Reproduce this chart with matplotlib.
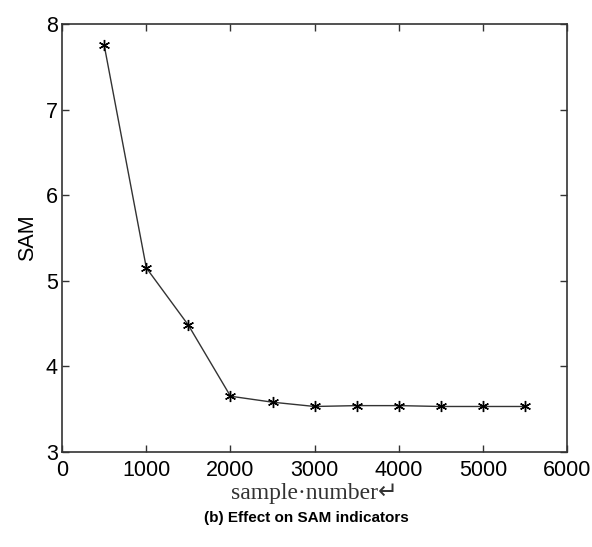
import matplotlib.pyplot as plt

# Данные
samples = [500, 1000, 1500, 2000, 2500, 3000, 3500, 4000, 4500, 5000, 5500]
sam = [7.75, 5.15, 4.48, 3.65, 3.58, 3.53, 3.54, 3.54, 3.53, 3.53, 3.53]
x_ticks = [0, 1000, 2000, 3000, 4000, 5000, 6000]
y_ticks = [3, 4, 5, 6, 7, 8]

fig = plt.figure(figsize=(5.92, 5.47), dpi=100)
ax = fig.add_axes([0.105, 0.174, 0.853, 0.782])

ax.plot(samples, sam, color='#333333', linewidth=1.0, marker=(6, 2, 0),
        markersize=8, markeredgewidth=1.0, markeredgecolor='black')

ax.set_xlim(0, 6000)
ax.set_ylim(3, 8)
ax.set_xticks(x_ticks)
ax.set_yticks(y_ticks)
ax.tick_params(direction='in', top=True, right=True, length=5, width=1,
               labelsize=15.5, colors='#333333', labelcolor='black')
ax.tick_params(axis='x', pad=6)
ax.tick_params(axis='y', pad=3)
for lbl in ax.get_xticklabels() + ax.get_yticklabels():
    lbl.set_fontfamily('Liberation Sans')
for s in ax.spines.values():
    s.set_color('#333333')
    s.set_linewidth(1.2)

ax.set_ylabel('SAM', fontsize=15.5, family='Liberation Sans', labelpad=6)
ax.set_xlabel('sample\u00b7number\u21b5', fontsize=17, family=['Liberation Serif', 'DejaVu Sans'],
              color='#333333', labelpad=1)

fig.text(0.517, 0.053, '(b) Effect on SAM indicators', ha='center', va='center',
         fontsize=11, fontweight='bold', family='Liberation Sans')

fig.savefig('out.png', dpi=100)
